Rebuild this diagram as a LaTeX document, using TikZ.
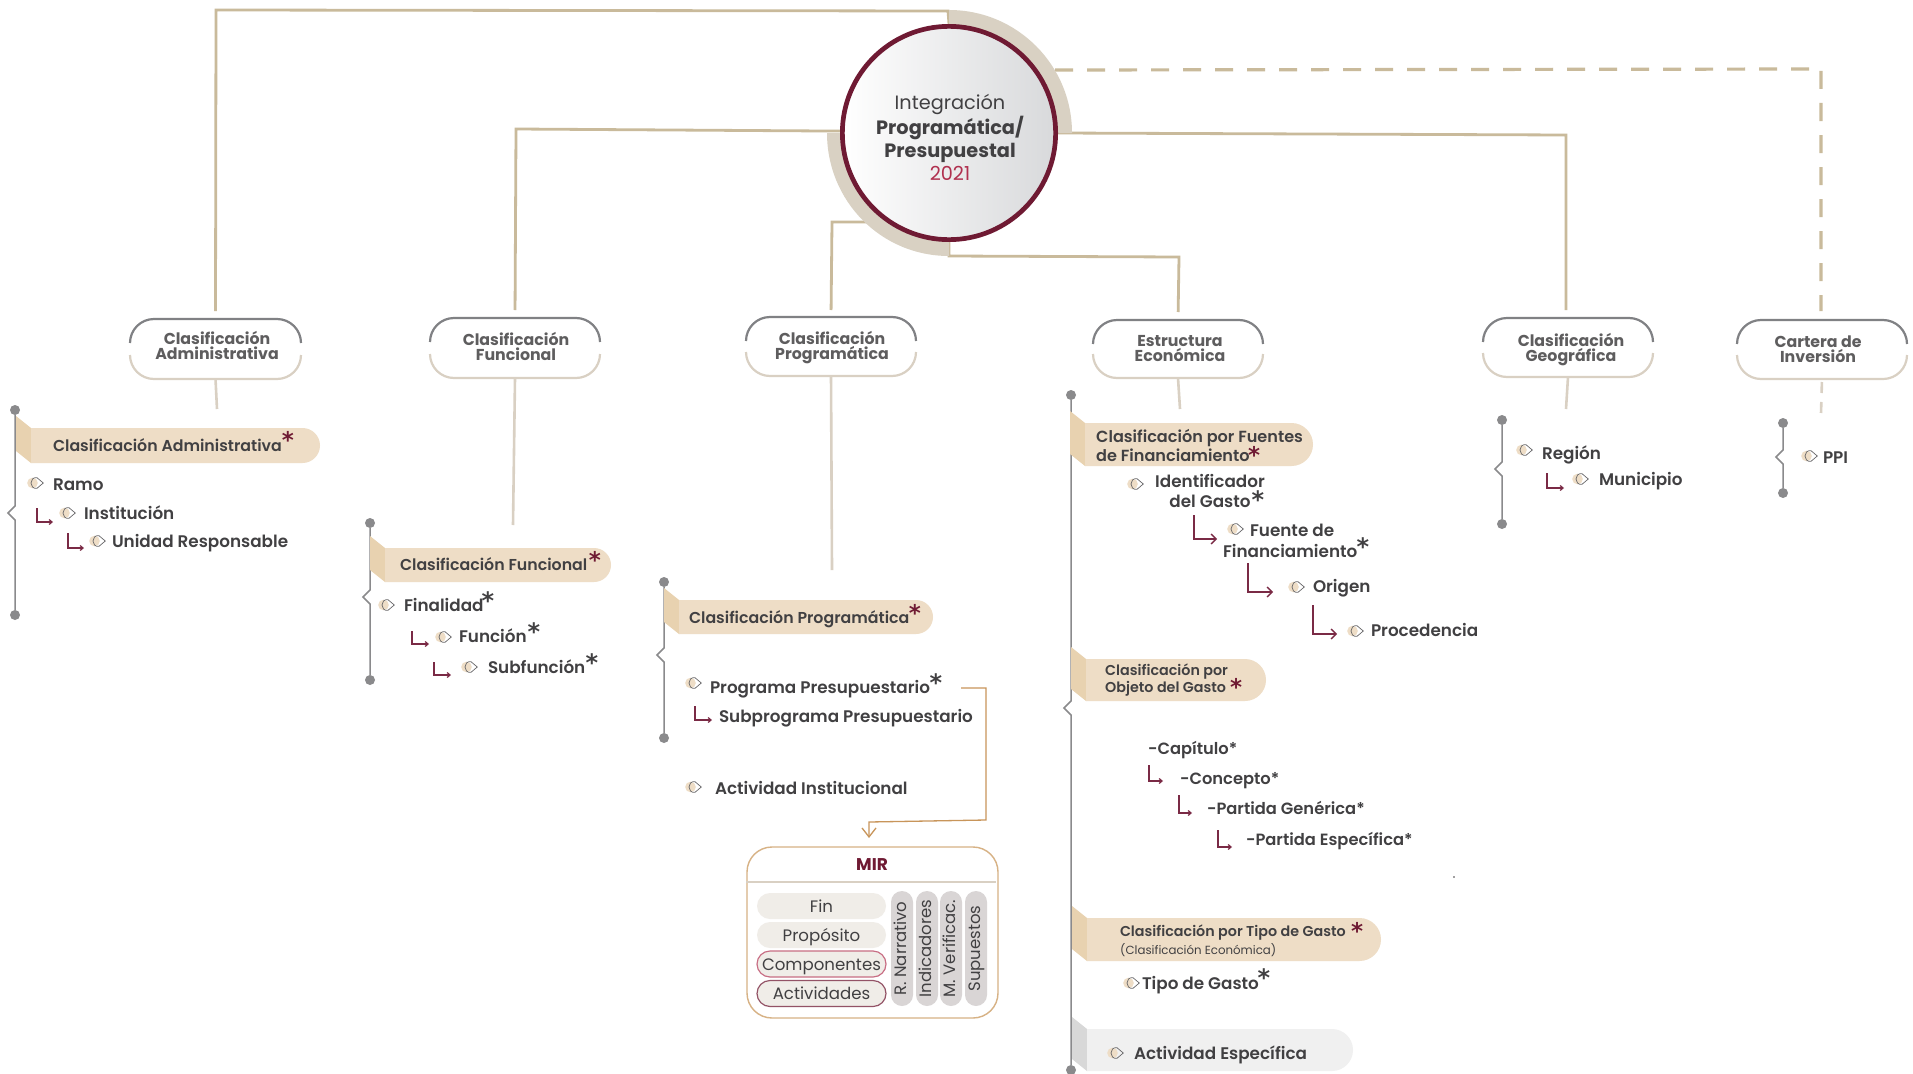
\documentclass[tikz,border=0pt]{standalone}
\usepackage{fontspec}
\setmainfont{Poppins}
\newfontfamily\medf{Poppins SemiBold}
\newfontfamily\djv{DejaVu Sans Bold}
\usetikzlibrary{arrows.meta,shapes.misc,backgrounds}
\definecolor{lineC}{HTML}{C9BA9B}
\definecolor{ringC}{HTML}{D9D1C3}
\definecolor{capC}{HTML}{808184}
\definecolor{lowC}{HTML}{D9D0C3}
\definecolor{maroon}{HTML}{6F1A33}
\definecolor{arrC}{HTML}{7A2A45}
\definecolor{txtC}{HTML}{414042}
\definecolor{bannerC}{HTML}{EEDDC6}
\definecolor{foldC}{HTML}{E8D2B0}
\definecolor{greyB}{HTML}{F0F0F0}
\definecolor{greyF}{HTML}{D8D8D8}
\definecolor{orC}{HTML}{C8955A}
\definecolor{brkC}{HTML}{8A8A8C}
\definecolor{pillC}{HTML}{F0EDE8}
\definecolor{vpillC}{HTML}{D9D5D5}
\definecolor{hubR}{HTML}{D8D9DB}
\definecolor{yearC}{HTML}{B0304F}
\tikzset{
  conn/.style={draw=lineC,line width=2.8pt},
  stem/.style={draw=lowC,line width=2.6pt},
  t/.style={font=\medf\fontsize{#1}{#1}\selectfont,text=txtC,inner sep=0pt,outer sep=0pt,text height=1.14em,text depth=0pt,anchor=west,yshift=-1pt},
  ast/.style={font=\djv\fontsize{#1}{#1}\selectfont,inner sep=0pt,outer sep=0pt,anchor=center,yshift=-2pt},
  astb/.style={ast=24,text=txtC,yshift=-1pt},
  dotn/.style={circle,fill=brkC,inner sep=0pt,minimum size=10pt},
  brkl/.style={draw=brkC,line width=1.5pt},
  larrow/.style={draw=arrC,line width=1.2pt,-{Straight Barb[length=3pt,width=5pt]}},
  larrowb/.style={draw=arrC,line width=1.3pt,-{Straight Barb[length=5pt,width=10pt]}},
  bann/.style={rounded rectangle,rounded rectangle west arc=none,inner sep=0pt,outer sep=0pt},
  capt/.style={font=\bfseries\fontsize{15.8}{15}\selectfont,text=txtC!85,align=center,inner sep=0pt,outer sep=0pt},
  rowp/.style={rounded rectangle,fill=pillC,minimum width=129pt,minimum height=26pt,inner sep=0pt,font=\fontsize{16.6}{16.6}\selectfont,text=txtC,text height=15.5pt,text depth=3pt},
  colp/.style={rounded rectangle,fill=vpillC,minimum width=115pt,minimum height=22pt,inner sep=0pt,rotate=90,font=\fontsize{16.5}{16.5}\selectfont,text=txtC,text height=12pt,text depth=3pt},
  bul/.pic={
    \fill[bannerC] (-3.5,0) circle (5.3);
    \draw[draw=txtC!80,line width=.7pt] (7.3,0) -- (1,-5.3) .. controls (-7,-6.5) and (-7,6.5) .. (1,5.3) -- cycle;
  }
}
\newcommand\capbox[8]{% name,x1,y1,x2,y2,text,tx,ty
  \node[minimum width={(#4-#2)*1pt},minimum height={(#5-#3)*1pt},inner sep=0pt,outer sep=0pt] (#1) at ({(#2+#4)/2},{(#3+#5)/2}) {};
  \node[capt] (#1t) at (#7,#8) {#6};
  \draw[draw=capC,line width=2.2pt,rounded corners=24pt] (#2,{#3+24}) -- (#2,#3) -- (#4,#3) -- (#4,{#3+24});
  \draw[draw=lowC,line width=2.2pt,rounded corners=24pt] (#2,{#5-24}) -- (#2,#5) -- (#4,#5) -- (#4,{#5-24});
}
\newcommand\brk[5]{%
  \node[dotn] (#1a) at (#2,#3) {};
  \node[dotn] (#1b) at (#2,#5) {};
  \draw[brkl] (#1a) -- (#2,{#4-7}) -- ({#2-7},#4) -- (#2,{#4+7}) -- (#1b);
}
\newcommand\flag[7]{% name,x,ytop,ybot,right,fold,pill
  \fill[#6] (#2,{#3-12}) -- ({#2+15},#3) -- ({#2+15},#4) -- (#2,{#4-12}) -- cycle;
  \node[bann,fill=#7,minimum width={(#5-#2-15)*1pt},minimum height={(#4-#3)*1pt}] (#1) at ({(#5+#2+15)/2},{(#3+#4)/2}) {};
}
\newcommand\larr[6][larrow]{%
  \coordinate (#2s) at (#3,#4);
  \coordinate (#2e) at (#5,#6);
  \draw[#1] (#2s) |- (#2e);
}
\begin{document}
\begin{tikzpicture}[x=1pt,y=-1pt]
\useasboundingbox (0,0) rectangle (1913,1073);

% hub
\node[circle,draw=maroon,line width=4.7pt,minimum size=213.3pt,left color=white,right color=hubR,inner sep=0pt] (hub) at (949,133) {};
\node[inner sep=0pt,align=center,font=\fontsize{19.3}{23.2}\selectfont,text=txtC] (hubt) at (950,137.5)
  {Integración\\\textbf{Programática/}\\\textbf{Presupuestal}\\\textcolor{yearC}{2021}};

% caption boxes
\capbox{bA}{130}{319}{301}{379}{Clasificación\\Administrativa}{217}{345.5}
\capbox{bF}{430}{318}{600}{378}{Clasificación\\Funcional}{516}{346.5}
\capbox{bP}{746}{317}{916}{376}{Clasificación\\Programática}{832}{347.5}
\capbox{bE}{1093}{320}{1263}{378}{Estructura\\Económica}{1180}{349}
\capbox{bG}{1483}{318}{1653}{377}{Clasificación\\Geográfica}{1571}{350}
\capbox{bC}{1737}{320}{1907}{379}{Cartera de\\Inversión}{1818}{349}

\coordinate (rP) at (870,222);
\coordinate (rD) at (1055,70);
\coordinate (sA) at (217,409);
\coordinate (sF) at (513,525);
\coordinate (sP) at (832,570);
\coordinate (sE) at (1180,409);
\coordinate (sG) at (1566,409);
\coordinate (sC) at (1821,413);
\coordinate (mO) at (961,688);
\coordinate (mA) at (869,838);

\begin{scope}[on background layer]
  \fill[white] (0,0) rectangle (1913,1073);
  \draw[conn,shorten <=8pt] (bA.north) -- (216,10) -- (948,11) -- (hub.north);
  \draw[conn,shorten <=8pt] (bF.north) -- (516,129) -- (hub.179);
  \draw[conn,shorten <=7pt] (bP.north) -- (832,222) -- (rP);
  \draw[conn,shorten >=8pt] (hub.south) -- (949,256) -- (1179,257) -- (bE.north);
  \draw[conn,shorten >=8pt] (hub.0) -- (1566,135) -- (1566,318);
  \draw[draw=lineC,line width=3.2pt,dash pattern=on 18pt off 14pt,shorten >=1pt] (rD) -- (1821,69) -- (1821,312);
  \fill[ringC] (949,10) .. controls (1017,10) and (1072,65) .. (1072,133) -- (949,133) -- cycle;
  \fill[ringC] (827,133) .. controls (827,201) and (881,256) .. (949,256) -- (949,133) -- cycle;
  \draw[stem] (bA.south) -- (sA);
  \draw[stem] (bF.south) -- (sF);
  \draw[stem] (bP.south) -- (sP);
  \draw[stem] (bE.south) -- (sE);
  \draw[stem] (bG.south) -- (sG);
  \draw[stem,dash pattern=on 11pt off 9pt,shorten <=3pt] (bC.south) -- (sC);
\end{scope}

% brackets
\brk{kA}{15}{410}{513}{615}
\brk{kF}{370}{523}{597}{680}
\brk{kP}{664}{582}{655}{738}
\brk{kE}{1071}{395}{708}{1070}
\brk{kG}{1502}{420}{469}{524}
\brk{kC}{1783}{423}{457}{493}

% Administrativa
\flag{fA}{16}{428}{463}{320}{foldC}{bannerC}
\node[t=15.8] at (53,445) {Clasificación Administrativa};
\node[ast=23,text=maroon] at (288,438) {*};
\pic at (36,483) {bul};
\node[t=16.8] at (53,484) {Ramo};
\pic at (68,513) {bul};
\node[t=16.8] at (84,513) {Institución};
\pic at (98,541) {bul};
\node[t=16.8] at (112,541) {Unidad Responsable};
\larr{a1}{37}{508}{53}{522}
\larr{a2}{68}{533}{84}{548}

% Funcional
\flag{fF}{370}{548}{582}{611}{foldC}{bannerC}
\node[t=15.8] at (400,564) {Clasificación Funcional};
\node[ast=23,text=maroon] at (595,558) {*};
\pic at (387,605) {bul};
\node[t=16.8] at (404,605) {Finalidad};
\node[astb] at (488,598) {*};
\pic at (444,637) {bul};
\node[t=16.8] at (459,636) {Función};
\node[astb] at (534,629) {*};
\pic at (470,667) {bul};
\node[t=16.8] at (488,667) {Subfunción};
\node[astb] at (592,660) {*};
\larr{f1}{412}{631}{429}{644}
\larr{f2}{434}{662}{451}{675}

% Programatica
\flag{fP}{664}{600}{634}{933}{foldC}{bannerC}
\node[t=15.8] at (689,617) {Clasificación Programática};
\node[ast=23,text=maroon] at (915,611) {*};
\pic at (694,683) {bul};
\node[t=16.8] (pp) at (710,687) {Programa Presupuestario};
\node[astb] at (936,680) {*};
\node[t=16.8] at (719,716) {Subprograma Presupuestario};
\larr{p1}{695}{706}{712}{720}
\pic at (694,787) {bul};
\node[t=16.8] at (715,788) {Actividad Institucional};

% MIR
\node[draw=orC!60!bannerC,line width=1.4pt,rounded corners=25pt,minimum width=251pt,minimum height=171pt,inner sep=0pt] (mir) at (872.5,932.5) {};
\draw[draw=lowC,line width=1.4pt] (746,882) -- (996,882);
\node[font=\bfseries\fontsize{17}{17}\selectfont,text=maroon,inner sep=0pt] at (872,865) {MIR};
\node[rowp] at (821.5,906) {Fin};
\node[rowp] at (821.5,935) {Propósito};
\node[rowp,draw=yearC!70,line width=1.2pt] at (821.5,964) {Componentes};
\node[rowp,draw=maroon!75,line width=1.2pt] at (821.5,993.5) {Actividades};
\node[colp] at (902,948.5) {R. Narrativo};
\node[colp] at (927,948.5) {Indicadores};
\node[colp] at (951,948.5) {M. Verificac.};
\node[colp] at (976,948.5) {Supuestos};
\draw[draw=orC,line width=1.3pt,-{Straight Barb[length=9pt,width=14pt]}] (mO) -- (986,688) -- (986,820) -- (869,822) -- (mA);

% Economica
\flag{fE1}{1070}{423}{466}{1313}{foldC}{bannerC}
\node[font=\medf\fontsize{16.1}{19}\selectfont,text=txtC,inner sep=0pt,align=left,anchor=west] at (1096,445.5) {Clasificación por Fuentes\\de Financiamiento};
\node[ast=23,text=maroon] at (1254,453) {*};
\pic at (1136,484) {bul};
\node[font=\medf\fontsize{16.8}{20}\selectfont,text=txtC,align=center,inner sep=0pt] at (1210,491) {Identificador\\del Gasto};
\node[astb] at (1258,497) {*};
\larr[larrowb]{e1}{1194}{515}{1217}{539}
\pic at (1236,529) {bul};
\node[t=16.8] at (1250,530) {Fuente de};
\node[t=16.8] at (1223,551) {Financiamiento};
\node[astb] at (1363,544) {*};
\larr[larrowb]{e2}{1248}{563}{1273}{592}
\pic at (1297,587) {bul};
\node[t=16.8] at (1313,586) {Origen};
\larr[larrowb]{e3}{1313}{605}{1337}{634}
\pic at (1356,631) {bul};
\node[t=16.8] at (1371,630) {Procedencia};

\flag{fE2}{1071}{659}{701}{1266}{foldC}{bannerC}
\node[font=\medf\fontsize{14.3}{17}\selectfont,text=txtC,align=left,inner sep=0pt,anchor=west] at (1105,680) {Clasificación por\\Objeto del Gasto};
\node[ast=23,text=maroon] at (1236,685) {*};
\node[t=16.3] at (1148,748) {-Capítulo*};
\node[t=16.3] at (1180,778) {-Concepto*};
\node[t=16.3] at (1207,808) {-Partida Genérica*};
\node[t=16.3] at (1246,839) {-Partida Específica*};
\larr{o1}{1149}{765}{1163}{781}
\larr{o2}{1179}{795}{1192}{813}
\larr{o3}{1218}{830}{1232}{847}
\fill[txtC] (1454,877) circle (.8);

\flag{fE3}{1072}{918}{961}{1381}{foldC}{bannerC}
\node[t=14.3] at (1120,930) {Clasificación por Tipo de Gasto};
\node[ast=23,text=maroon] at (1357,929) {*};
\node[font=\fontsize{11.8}{11.8}\selectfont,text=txtC,inner sep=0pt,text height=1em,text depth=0pt,anchor=west] at (1120,949) {(Clasificación Económica)};
\pic at (1132,983) {bul};
\node[t=16.8] at (1142,983) {Tipo de Gasto};
\node[astb] at (1264,975) {*};

\flag{fE4}{1072}{1029}{1071}{1353}{greyF}{greyB}
\pic at (1116,1053) {bul};
\node[t=16.8] at (1134,1053) {Actividad Específica};

% Geografica
\pic at (1525,450) {bul};
\node[t=16.8] at (1542,453) {Región};
\pic at (1581,479) {bul};
\node[t=16.8] at (1599,479) {Municipio};
\larr{g1}{1547}{473}{1564}{488}

% Cartera
\pic at (1810,456) {bul};
\node[t=16.8] at (1823,457) {PPI};
\end{tikzpicture}
\end{document}
